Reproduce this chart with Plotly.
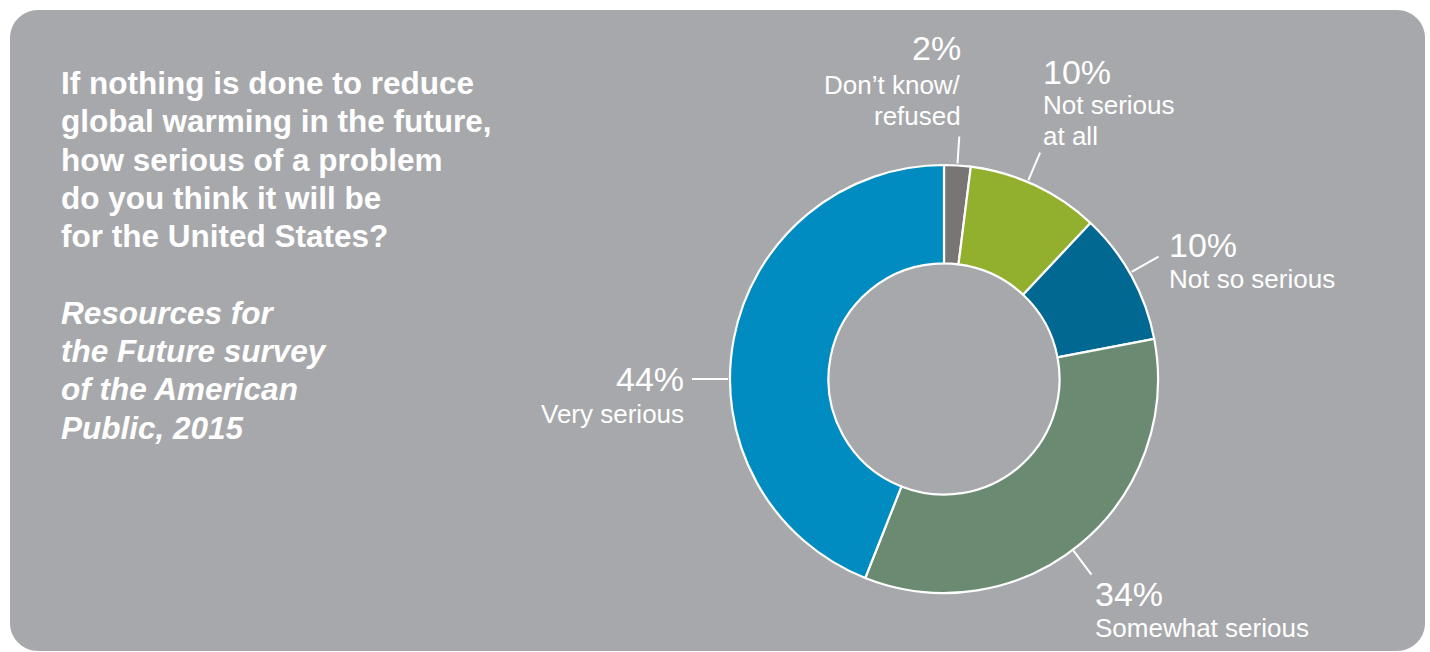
import math
import plotly.graph_objects as go

# Survey responses (percent), clockwise from 12 o'clock
categories = ["Don\u2019t know/<br>refused", "Not serious<br>at all", "Not so serious",
              "Somewhat serious", "Very serious"]
shares = [2, 10, 10, 34, 44]
slice_colors = ["#777674", "#92b02d", "#006891", "#6a8b72", "#008bc1"]

question = ["If nothing is done to reduce", "global warming in the future,",
            "how serious of a problem", "do you think it will be",
            "for the United States?"]
source = ["Resources for", "the Future survey", "of the American", "Public, 2015"]

W, H = 1430, 652
PANEL = "#a7a8ab"
FONT = "Liberation Sans, Arial, Helvetica, sans-serif"

# donut geometry (pixels)
CX, CY, R = 944, 379, 214


def fx(px):
    return px / W


def fy(py):
    return 1 - py / H


fig = go.Figure()
fig.add_trace(go.Pie(
    values=shares,
    labels=[c.replace("<br>", " ") for c in categories],
    sort=False,
    direction="clockwise",
    rotation=0,
    hole=0.54,
    marker=dict(colors=slice_colors, line=dict(color="white", width=2.2)),
    textinfo="none",
    hoverinfo="label+percent",
    showlegend=False,
    domain=dict(x=[fx(CX - R), fx(CX + R)], y=[fy(CY + R), fy(CY - R)]),
))

# rounded background panel
x0, y0, x1, y1, rad = 10, 10, 1425, 651, 28
k = 0.5523 * rad


def P(px, py):
    return f"{fx(px):.6f},{fy(py):.6f}"


panel_path = (
    f"M {P(x0 + rad, y0)} L {P(x1 - rad, y0)} "
    f"C {P(x1 - rad + k, y0)} {P(x1, y0 + rad - k)} {P(x1, y0 + rad)} "
    f"L {P(x1, y1 - rad)} "
    f"C {P(x1, y1 - rad + k)} {P(x1 - rad + k, y1)} {P(x1 - rad, y1)} "
    f"L {P(x0 + rad, y1)} "
    f"C {P(x0 + rad - k, y1)} {P(x0, y1 - rad + k)} {P(x0, y1 - rad)} "
    f"L {P(x0, y0 + rad)} "
    f"C {P(x0, y0 + rad - k)} {P(x0 + rad - k, y0)} {P(x0 + rad, y0)} Z"
)
shapes = [dict(type="path", path=panel_path, xref="paper", yref="paper",
               fillcolor=PANEL, line=dict(width=0), layer="below")]

# leader lines: angle (deg, clockwise from top), inner and outer radius
leaders = [(3.6, 216, 243), (23, 216, 246), (60.3, 216, 247),
           (143, 215, 245), (270, 216, 252)]
for ang, r0, r1 in leaders:
    a = math.radians(ang)
    sx, sy = CX + r0 * math.sin(a), CY - r0 * math.cos(a)
    ex, ey = CX + r1 * math.sin(a), CY - r1 * math.cos(a)
    shapes.append(dict(type="line", xref="paper", yref="paper",
                       x0=fx(sx), y0=fy(sy), x1=fx(ex), y1=fy(ey),
                       line=dict(color="white", width=2)))

annotations = []

# label anchors: (x, y of percent line, y of first text line, alignment)
anchors = [(963, 48, 85, "right"), (1041, 72, 105, "left"), (1167, 245, 279, "left"),
           (1093, 594, 628, "left"), (686, 379, 414, "right")]
LABEL_STEP = 31
for cat, val, (ax, py_pct, py_txt, side) in zip(categories, shares, anchors):
    annotations.append(dict(
        text=f"{val}%", x=fx(ax), y=fy(py_pct), xref="paper", yref="paper",
        xanchor=side, yanchor="middle", showarrow=False, align=side,
        font=dict(family=FONT, size=34, color="white")))
    for j, part in enumerate(cat.split("<br>")):
        annotations.append(dict(
            text=part, x=fx(ax), y=fy(py_txt + j * LABEL_STEP),
            xref="paper", yref="paper",
            xanchor=side, yanchor="middle", showarrow=False, align=side,
            font=dict(family=FONT, size=26, color="white")))

# question and source block, one line at a time
LINE0, STEP = 83, 38.3
block = [f"<b>{s}</b>" for s in question] + [""] + \
    [f"<b><i>{s}</i></b>" for s in source]
for i, line in enumerate(block):
    if not line:
        continue
    annotations.append(dict(
        text=line, x=fx(59), y=fy(LINE0 + i * STEP), xref="paper", yref="paper",
        xanchor="left", yanchor="middle", showarrow=False, align="left",
        font=dict(family=FONT, size=31.5, color="white")))

fig.update_layout(
    width=W, height=H,
    margin=dict(l=0, r=0, t=0, b=0),
    paper_bgcolor="white",
    plot_bgcolor="white",
    shapes=shapes,
    annotations=annotations,
)

fig.write_html("out.html")
